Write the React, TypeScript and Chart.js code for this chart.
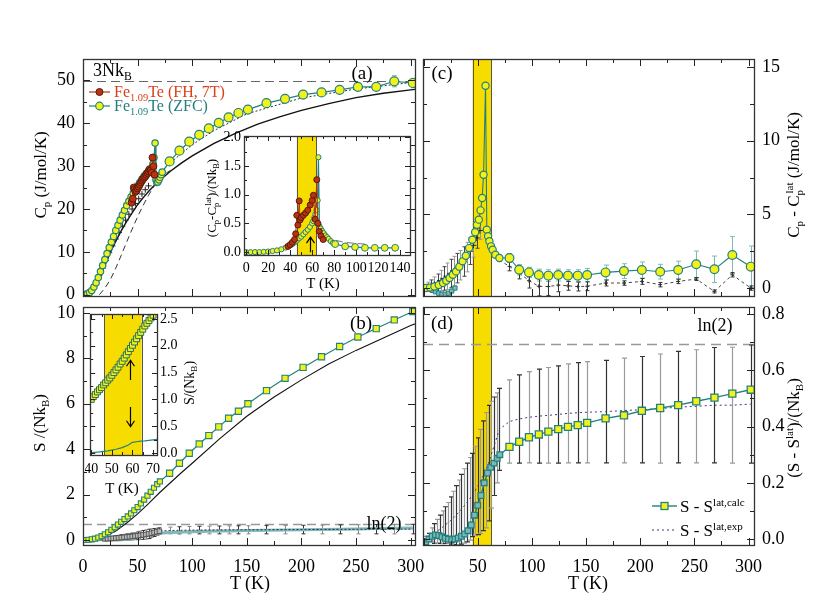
import React, { useEffect, useRef } from "react";
import { Chart, registerables } from "chart.js";
Chart.register(...registerables);

const FONT = "'Liberation Serif','Times New Roman',Times,serif";
const TEAL = "#23807e";
const TEAL_LIGHT = "#7fb8b6";
const YEL = "#f2f21a";
const BANDC = "#f7dc00";
const RED = "#b8330f";
const RED_DARK = "#5a1a0a";

// ---------- tick label arrays ----------
const A_YTICKS = [0, 10, 20, 30, 40, 50];
const B_YTICKS = [0, 2, 4, 6, 8, 10];
const C_YTICKS = [0, 5, 10, 15];
const D_YTICKS = [0, 0.2, 0.4, 0.6, 0.8];
const B_XTICKS = [0, 50, 100, 150, 200, 250, 300];
const D_XTICKS = [50, 100, 150, 200, 250, 300];
const IA_XTICKS = [0, 20, 40, 60, 80, 100, 120, 140];
const IA_YTICKS = [0, 0.5, 1, 1.5, 2];
const IB_XTICKS = [40, 50, 60, 70];
const IB_YTICKS = [0, 0.5, 1, 1.5, 2, 2.5];

const LN2 = 0.693;
const THREE_NKB = 49.9;
const BAND_MAIN = [45.2, 62.7];
const BAND_IA = [46, 63.5];
const BAND_IB = [46.3, 64.5];

// ---------- panel (a): Cp ----------
const A_ZFC_T = [2,4,6,8,10,12,14,16,18,20,22,24,26,28,30,32,34,36,38,40,42,44,46,48,50,52,54,56,58,60,62,64,65,66,66.8,67.6,68.5,69.5,70.5,71.5,72.5,
  79.3,88.3,97.3,106.4,115.2,124.3,133.3,142.3,151,168,185,201.5,218.4,235,251.7,268.5,285,302];
const A_ZFC_CP = [0.05,0.2,0.5,1.0,1.8,2.8,4.0,5.4,6.8,8.2,9.6,11.0,12.3,13.6,15.0,16.2,17.4,18.6,19.7,20.8,21.8,22.8,23.7,24.6,25.4,26.2,27.0,27.7,28.3,28.8,29.2,30.5,32.0,35.4,26.8,26.2,26.3,26.8,27.4,28.0,28.6,
  31.1,33.6,35.7,37.3,38.8,40.1,41.4,42.4,43.2,44.7,45.7,46.7,47.2,47.8,48.5,48.5,49.8,49.4];
const A_ZFC_ERR = [0.3,0.3,0.3,0.3,0.3,0.3,0.3,0.3,0.3,0.4,0.4,0.4,0.4,0.5,0.6,0.8,1.3,1.1];
const A_FH_T = [44.5,45.6,46.5,47.2,48,49,50,51,52,53,54,55,56,57,58,59,60,61,62,63,63.7,64.5,65.5];
const A_FH_CP = [21.5,22.4,25.0,24.6,24.0,24.3,24.8,25.2,25.7,26.2,26.6,27.0,27.3,27.6,28.0,28.4,28.8,29.3,29.0,28.5,32.0,30.0,28.0];
const A_LAT_T = [0,5,10,15,20,25,30,35,40,45,50,55,60,65,70,80,90,100,120,140,160,180,200,225,250,275,300,310];
const A_LAT_CP = [0,0.2,1.3,4.0,6.8,9.8,12.5,14.9,17.1,19.1,21.0,22.6,24.1,25.4,26.6,28.8,30.7,32.4,35.3,37.7,39.8,41.5,43.0,44.6,46.0,47.0,47.8,48.1];
const A_DASH_T = [15,20,25,30,35,40,45,50,55,60,65,70,75,80];
const A_DASH_CP = [0,1.5,3.5,6.2,9.2,12.3,15.3,18.2,20.8,23.2,25.3,27.0,28.2,29.0];
const A_DOT_T = [75,80,100,120,150,200,250,300,310];
const A_DOT_CP = [29.5,30.8,35.0,38.3,42.2,45.9,48.0,49.5,49.8];
const A_X_T = [15,18,21,24,27,30,33,36,39,42,45,48,51,54,57,60];
const A_X_CP = [4.5,6.2,8.0,9.8,11.4,13.0,14.5,16.0,17.4,18.8,20.0,21.3,22.4,23.5,24.5,25.4];

// ---------- inset (a): (Cp - Cp_lat)/NkB ----------
const IA_ZFC_T = [0,4,8,12,16,20,24,28,32,36,40,42,44,46,48,50,52,54,56,58,60,61,62,63,64,65,65.7,66.6,67.8,69,70.5,72,73.5,75,77,79,80.9,90,99,108,117,126,135.5];
const IA_ZFC_V = [0,0,0,0,0.005,0.01,0.02,0.03,0.05,0.08,0.12,0.14,0.17,0.2,0.24,0.27,0.31,0.35,0.39,0.44,0.5,0.54,0.6,0.66,0.73,0.9,1.65,0.45,0.41,0.37,0.33,0.29,0.26,0.23,0.19,0.16,0.14,0.1,0.09,0.075,0.075,0.075,0.075];
const IA_FH_T = [38,40,42,44,45,46,47,48.2,49,50,52,54,56,58.2,60,61.2,62.7,64.2,65.2,66.5,68,70];
const IA_FH_V = [0.1,0.13,0.17,0.22,0.32,0.64,0.47,0.89,0.56,0.6,0.64,0.68,0.73,0.82,0.9,0.99,0.57,1.26,0.5,0.36,0.28,0.22];
const IA_DASH_T = [72,80,90,100,110];
const IA_DASH_V = [0.26,0.21,0.17,0.15,0.14];
const IA_ARROW = { x: 58, y0: 0.0, y1: 0.26 };

// ---------- panel (b): S/(NkB) ----------
const B_S_T = [2,5,8,11,14,17,20,23,26,29,32,35,38,41,44,47,50,53,56,59,62,65,68,70.4,
  79.3,88.3,97.3,106.4,115.2,124.3,133.3,142.3,151,168,185,201.5,218.4,235,251.7,268.5,285,302];
const B_S = [0,0.01,0.03,0.06,0.11,0.17,0.25,0.34,0.45,0.56,0.68,0.8,0.92,1.04,1.17,1.31,1.45,1.61,1.78,1.95,2.12,2.3,2.46,2.58,
  2.94,3.38,3.82,4.23,4.6,4.98,5.36,5.67,6.0,6.58,7.12,7.6,8.07,8.52,8.94,9.31,9.69,10.06];
const B_LAT_T = [0,10,20,30,40,50,60,70,80,90,100,125,150,175,200,225,250,275,300,310];
const B_LAT = [0,0.02,0.15,0.4,0.75,1.15,1.6,2.08,2.52,2.96,3.38,4.45,5.45,6.3,7.05,7.75,8.35,8.9,9.45,9.62];

// ---------- inset (b) ----------
const IB_T = [40,41,42,43,44,45,46,47,48,49,50,51,52,53,54,55,56,57,58,59,60,61,62,63,64,65,66,67,68,69,70];
const IB_S = [1.0,1.05,1.09,1.14,1.18,1.22,1.27,1.31,1.36,1.4,1.45,1.5,1.55,1.6,1.66,1.71,1.77,1.83,1.89,1.95,2.01,2.07,2.13,2.19,2.25,2.31,2.37,2.42,2.47,2.52,2.57];
const IB_LAT_T = [39,45,50,55,60,65,70,72];
const IB_LAT = [0.98,1.28,1.51,1.77,2.07,2.37,2.63,2.72];
const IB_FH_T = [42,47,52,57,62,67,70];
const IB_FH = [1.12,1.36,1.6,1.88,2.18,2.47,2.62];
const IB_M_T = [39,44,48,52,55,58,60,62,64,66,68,70,72];
const IB_M = [0,0.02,0.04,0.07,0.1,0.15,0.2,0.21,0.22,0.225,0.235,0.245,0.255];
const IB_ARROWS = [{ x: 58.8, y0: 1.36, y1: 1.73 }, { x: 58.8, y0: 0.86, y1: 0.49 }];

// ---------- panel (c): Cp - Cp_lat ----------
const C_T = [2,6,10,14,18,21,24,27,30,33,36,39,42,45,47.6,49.3,51,52.6,54.1,55.4,57.2,58.4,59.6,60.8,62.3,63.8,66.3,70,
  79.3,88.3,97.3,106.4,115.2,124.3,133.3,142.3,151,168,185,201.5,218.4,235,251.7,268.5,285,302];
const C_V = [0,0.03,0.1,0.2,0.34,0.5,0.68,0.9,1.13,1.45,1.81,2.19,2.71,3.28,3.78,4.3,4.64,5.27,6.11,7.69,13.73,3.96,3.51,3.17,2.83,2.6,2.26,2.04,
  2.04,1.24,1.06,0.88,0.84,0.88,0.84,0.84,0.88,1.06,1.15,1.22,1.11,1.22,1.61,1.27,2.24,1.45];
const C_ERR = [0.3,0.35,0.35,0.4,0.4,0.4,0.4,0.4,0.45,0.5,0.5,0.55,0.5,0.6,0.9,0.9,1.25,1.4];
const C_X_T = [4,7,10,13,16,19,22,25,28,31,34,37,40,43,46,49,52];
const C_X_V = [0.1,0.15,0.25,0.35,0.5,0.65,0.8,1.0,1.15,1.35,1.55,1.8,2.1,2.5,2.9,3.4,3.9];
const C_X_ERR = [0.3,0.4,0.5,0.6,0.7,0.8,0.9,0.95,1.0,1.0,1.0,1.0,1.0,0.9,0.8,0.7,0.6];
const C_E_T = [70,79.3,88.3,97.3,106.4,115.2,124.3,133.3,142.3,151,168,185,201.5,218.4,235,251.7,268.5,285,302];
const C_E_V = [1.9,1.47,1.02,0.5,0.12,0.1,0.2,0.15,0.1,0.12,0.34,0.34,0.45,0.23,0.45,0.61,-0.23,0.9,0.0];
const C_E_ERR = [0.3,0.4,0.5,0.65,0.6,0.45,0.3,0.3,0.3,0.2,0.15,0.2,0.15,0.15,0.1,0.1,0.15,0.15];
const C_TL_T = [2,5,8,11,14,17,20,23,26,29];
const C_TL_V = [0.05,-0.05,-0.15,-0.25,-0.35,-0.42,-0.42,-0.35,-0.2,0.0];

// ---------- panel (d): (S - S_lat)/NkB ----------
const D_T = [2,5,8,11,14,17,20,23,26,29,32,35,38,41,44,47,50,53,56,59,62,65,68,70.4,
  79.3,88.3,97.3,106.4,115.2,124.3,133.3,142.3,151,168,185,201.5,218.4,235,251.7,268.5,285,302];
const D_CALC = [-0.01,0.0,0.01,0.015,0.013,0.008,0.003,0.0,-0.002,0.0,0.004,0.01,0.018,0.03,0.05,0.085,0.12,0.155,0.2,0.235,0.255,0.27,0.287,0.3,
  0.328,0.346,0.362,0.372,0.382,0.391,0.399,0.405,0.413,0.429,0.44,0.456,0.466,0.476,0.49,0.503,0.517,0.531];
const D_EXP_T = [2,5,7.5,10,12.5,15,17.5,20,22.5,25,27.5,30,32.5,35,37.5,40,42.5,45,47.5,50,52.5,55,57.5,60,62.5,65,67.5,70,
  79.3,88.3,97.3,106.4,115.2,124.3,133.3,142.3,151,168,185,201.5,218.4,235,251.7,268.5,285,302];
const D_EXP = [0,0.01,0.015,0.02,0.028,0.035,0.042,0.05,0.058,0.066,0.075,0.085,0.095,0.106,0.118,0.13,0.143,0.157,0.172,0.188,0.205,0.225,0.245,0.27,0.3,0.33,0.36,0.39,
  0.418,0.427,0.433,0.437,0.44,0.443,0.447,0.449,0.451,0.453,0.457,0.46,0.464,0.469,0.472,0.476,0.476,0.48];
const D_EXP_ERR = [0.01,0.01,0.025,0.035,0.042,0.05,0.058,0.065,0.072,0.084,0.095,0.105,0.115,0.124,0.132,0.14,0.147,0.148,0.158,0.172,0.185,0.195,0.205,0.205,0.19,0.175,0.16,0.146,
  0.148,0.157,0.162,0.167,0.17,0.173,0.176,0.178,0.18,0.182,0.186,0.189,0.194,0.198,0.201,0.205,0.206,0.21];

// ---------- helpers ----------
const pts = (T: number[], V: number[]) => T.map((t, i) => ({ x: t, y: V[i] }));

const decor: any = {
  id: "decor",
  beforeDraw(chart: any, _a: any, o: any) {
    if (!o || !o.white) return;
    const c = chart.chartArea, ctx = chart.ctx;
    ctx.save();
    ctx.fillStyle = "#fff";
    ctx.fillRect(c.left, c.top, c.right - c.left, c.bottom - c.top);
    ctx.restore();
  },
  beforeDatasetsDraw(chart: any, _a: any, o: any) {
    const ctx = chart.ctx, c = chart.chartArea, xs = chart.scales.x, ys = chart.scales.y;
    ctx.save();
    ctx.beginPath();
    ctx.rect(c.left, c.top, c.right - c.left, c.bottom - c.top);
    ctx.clip();
    if (o.band) {
      const x0 = xs.getPixelForValue(o.band[0]), x1 = xs.getPixelForValue(o.band[1]);
      ctx.fillStyle = BANDC;
      ctx.fillRect(x0, c.top, x1 - x0, c.bottom - c.top);
      ctx.strokeStyle = "#555";
      ctx.lineWidth = 1;
      [x0, x1].forEach((px) => {
        ctx.beginPath();
        ctx.moveTo(Math.round(px) + 0.5, c.top);
        ctx.lineTo(Math.round(px) + 0.5, c.bottom);
        ctx.stroke();
      });
    }
    if (o.hlines) {
      for (const h of o.hlines) {
        const py = Math.round(ys.getPixelForValue(h.y)) + 0.5;
        ctx.strokeStyle = h.color;
        ctx.lineWidth = h.width || 1;
        ctx.setLineDash(h.dash || []);
        ctx.beginPath();
        ctx.moveTo(c.left, py);
        ctx.lineTo(c.right, py);
        ctx.stroke();
      }
      ctx.setLineDash([]);
    }
    chart.data.datasets.forEach((ds: any) => {
      if (!ds.errs) return;
      const off = ds.data.length - ds.errs.length;
      ds.data.forEach((p: any, j: number) => {
        const e = ds.errs[j - off];
        if (!(e > 0)) return;
        const px = Math.round(xs.getPixelForValue(p.x)) + 0.5;
        const y0 = ys.getPixelForValue(p.y - e), y1 = ys.getPixelForValue(p.y + e);
        const col = Array.isArray(ds.errColor) ? ds.errColor[j % ds.errColor.length] : ds.errColor;
        ctx.strokeStyle = col || "#333";
        ctx.lineWidth = ds.errWidth || 1;
        const cw = ds.capW == null ? 2.5 : ds.capW;
        ctx.beginPath();
        ctx.moveTo(px, y0); ctx.lineTo(px, y1);
        if (cw > 0) {
          ctx.moveTo(px - cw, y0); ctx.lineTo(px + cw, y0);
          ctx.moveTo(px - cw, y1); ctx.lineTo(px + cw, y1);
        }
        ctx.stroke();
      });
    });
    ctx.restore();
  },
  afterDraw(chart: any, _a: any, o: any) {
    const ctx = chart.ctx, c = chart.chartArea, xs = chart.scales.x, ys = chart.scales.y;
    ctx.save();
    if (o.arrows) {
      ctx.strokeStyle = "#000";
      ctx.lineWidth = 1.2;
      for (const a of o.arrows) {
        const px = Math.round(xs.getPixelForValue(a.x)) + 0.5;
        const p0 = ys.getPixelForValue(a.y0), p1 = ys.getPixelForValue(a.y1);
        const dir = p1 < p0 ? 1 : -1;
        ctx.beginPath();
        ctx.moveTo(px, p0); ctx.lineTo(px, p1);
        ctx.moveTo(px - 4, p1 + dir * 6); ctx.lineTo(px, p1); ctx.lineTo(px + 4, p1 + dir * 6);
        ctx.stroke();
      }
    }
    const L1 = o.tickMajor || 7, L2 = o.tickMinor || 4;
    ctx.strokeStyle = "#222";
    ctx.lineWidth = 1;
    ctx.beginPath();
    const axisTicks = (s: any, isX: boolean, minor: number, major: number) => {
      const ratio = Math.round(major / minor);
      const n0 = Math.ceil(s.min / minor - 1e-6), n1 = Math.floor(s.max / minor + 1e-6);
      for (let k = n0; k <= n1; k++) {
        const L = k % ratio === 0 ? L1 : L2;
        const p = Math.round(s.getPixelForValue(k * minor)) + 0.5;
        if (isX) {
          ctx.moveTo(p, c.bottom); ctx.lineTo(p, c.bottom - L);
          ctx.moveTo(p, c.top); ctx.lineTo(p, c.top + L);
        } else {
          ctx.moveTo(c.left, p); ctx.lineTo(c.left + L, p);
          ctx.moveTo(c.right, p); ctx.lineTo(c.right - L, p);
        }
      }
    };
    if (o.xt) axisTicks(xs, true, o.xt[0], o.xt[1]);
    if (o.yt) axisTicks(ys, false, o.yt[0], o.yt[1]);
    ctx.stroke();
    ctx.strokeStyle = "#333";
    ctx.lineWidth = 1.3;
    ctx.strokeRect(Math.round(c.left) + 0.5, Math.round(c.top) + 0.5, Math.round(c.right - c.left), Math.round(c.bottom - c.top));
    ctx.restore();
  },
};

function axis(a: any) {
  const horiz = a.pos === "bottom" || a.pos === "top";
  const cfg: any = {
    type: "linear",
    position: a.pos,
    min: a.min,
    max: a.max,
    display: a.show,
    grid: { display: false, drawTicks: false },
    border: { display: false },
    ticks: {
      font: { family: FONT, size: a.size || 18 },
      color: "#000",
      padding: a.pad == null ? 8 : a.pad,
      autoSkip: false,
      maxRotation: 0,
      minRotation: 0,
      callback: (v: number) => (a.dec ? v.toFixed(a.dec) : String(v)),
    },
    afterBuildTicks: (s: any) => {
      s.ticks = (a.ticks || []).map((v: number) => ({ value: v }));
    },
  };
  if (a.show) {
    cfg.afterFit = (s: any) => {
      if (horiz) s.height = a.fixed; else s.width = a.fixed;
      s.paddingTop = 0; s.paddingBottom = 0; s.paddingLeft = 0; s.paddingRight = 0;
    };
  }
  return cfg;
}

function opts(padding: any, x: any, y: any, dec: any) {
  return {
    responsive: false,
    maintainAspectRatio: false,
    animation: false,
    devicePixelRatio: 1,
    events: [],
    layout: { padding },
    plugins: { legend: { display: false }, tooltip: { enabled: false }, decor: dec },
    scales: { x, y },
  };
}

const line = (T: number[], V: number[], color: string, width: number, dash: number[] = []) => ({
  data: pts(T, V), showLine: true, borderColor: color, borderWidth: width, borderDash: dash,
  pointRadius: 0, backgroundColor: color, tension: 0,
});

// ---------- configs ----------
function cfgA(): any {
  return {
    type: "scatter",
    data: {
      datasets: [
        { data: pts(A_FH_T, A_FH_CP), showLine: true, borderColor: RED, borderWidth: 1, pointRadius: 3.5,
          pointBackgroundColor: RED, pointBorderColor: RED_DARK, pointBorderWidth: 1 },
        { data: pts(A_ZFC_T, A_ZFC_CP), showLine: true, borderColor: TEAL, borderWidth: 1.2,
          pointRadius: A_ZFC_T.map((t) => (t < 75 ? 3.2 : 4.5)), pointBackgroundColor: YEL,
          pointBorderColor: TEAL, pointBorderWidth: 1.2, errs: A_ZFC_ERR, errColor: TEAL_LIGHT },
        { data: pts(A_X_T, A_X_CP), showLine: false, pointStyle: "cross", pointRadius: 3,
          pointBorderColor: "#222", pointBorderWidth: 1 },
        line(A_DOT_T, A_DOT_CP, "#333", 1, [2, 2]),
        line(A_DASH_T, A_DASH_CP, "#333", 1, [6, 4]),
        line(A_LAT_T, A_LAT_CP, "#111", 1.4),
      ],
    },
    options: opts(
      { top: 19, right: 25, bottom: 9, left: 0 },
      axis({ pos: "bottom", min: 0, max: 304, show: false }),
      axis({ pos: "left", min: -0.3, max: 55, show: true, ticks: A_YTICKS, fixed: 83, pad: 8 }),
      { xt: [25, 50], yt: [5, 10], hlines: [{ y: THREE_NKB, color: "#666", dash: [9, 5], width: 1 }] }
    ),
    plugins: [decor],
  };
}

function cfgIA(): any {
  return {
    type: "scatter",
    data: {
      datasets: [
        { data: pts(IA_FH_T, IA_FH_V), showLine: true, borderColor: RED, borderWidth: 1, pointRadius: 3,
          pointBackgroundColor: RED, pointBorderColor: RED_DARK, pointBorderWidth: 1 },
        { data: pts(IA_ZFC_T, IA_ZFC_V), showLine: true, borderColor: TEAL, borderWidth: 1.2,
          pointRadius: IA_ZFC_T.map((t) => (t < 80 ? 2.6 : 3.4)), pointBackgroundColor: YEL,
          pointBorderColor: TEAL, pointBorderWidth: 1 },
        line(IA_DASH_T, IA_DASH_V, "#777", 1, [7, 4]),
      ],
    },
    options: opts(
      { top: 10, right: 5, bottom: 0, left: 0 },
      axis({ pos: "bottom", min: -2, max: 149, show: true, ticks: IA_XTICKS, fixed: 32, pad: 5, size: 14 }),
      axis({ pos: "left", min: -0.05, max: 2.02, show: true, ticks: IA_YTICKS, fixed: 44, pad: 3, size: 14, dec: 1 }),
      { white: true, band: BAND_IA, xt: [10, 20], yt: [0.25, 0.5], tickMajor: 5, tickMinor: 3, arrows: [IA_ARROW] }
    ),
    plugins: [decor],
  };
}

function cfgB(): any {
  return {
    type: "scatter",
    data: {
      datasets: [
        { data: pts(B_S_T, B_S), showLine: true, borderColor: TEAL, borderWidth: 1.2, pointStyle: "rect",
          pointRadius: B_S_T.map((t) => (t < 75 ? 3.6 : 4.4)), pointBackgroundColor: YEL,
          pointBorderColor: TEAL, pointBorderWidth: 1.1 },
        line(B_LAT_T, B_LAT, "#111", 1.1),
        { data: pts(D_EXP_T, D_EXP), showLine: true, borderColor: "#2a2a55", borderWidth: 1, borderDash: [2, 2],
          pointStyle: "rect", pointRadius: D_EXP_T.map((t) => (t <= 70 && t >= 20 ? 3.2 : 0)),
          pointBackgroundColor: "#bbb", pointBorderColor: "#444", pointBorderWidth: 0.8,
          errs: D_EXP_ERR, errColor: ["#888", "#333"], capW: 2 },
        line(D_T, D_CALC, TEAL_LIGHT, 3),
      ],
    },
    options: opts(
      { top: 17, right: 25, bottom: 0, left: 0 },
      axis({ pos: "bottom", min: 0, max: 304, show: true, ticks: B_XTICKS, fixed: 48, pad: 11 }),
      axis({ pos: "left", min: -0.22, max: 10.26, show: true, ticks: B_YTICKS, fixed: 83, pad: 8 }),
      { xt: [25, 50], yt: [1, 2], hlines: [{ y: LN2, color: "#999", dash: [9, 5], width: 1.3 }] }
    ),
    plugins: [decor],
  };
}

function cfgIB(): any {
  return {
    type: "scatter",
    data: {
      datasets: [
        { data: pts(IB_T, IB_S), showLine: false, pointStyle: "rect", pointRadius: 4.2,
          pointBackgroundColor: YEL, pointBorderColor: "#2a6e5a", pointBorderWidth: 1 },
        line(IB_FH_T, IB_FH, RED, 1.2),
        line(IB_LAT_T, IB_LAT, "#111", 1.2),
        line(IB_M_T, IB_M, TEAL, 1.2),
      ],
    },
    options: opts(
      { top: 9, right: 0, bottom: 0, left: 5 },
      axis({ pos: "bottom", min: 39.5, max: 71.9, show: true, ticks: IB_XTICKS, fixed: 40, pad: 6, size: 14 }),
      axis({ pos: "right", min: -0.037, max: 2.593, show: true, ticks: IB_YTICKS, fixed: 58, pad: 3, size: 14, dec: 1 }),
      { white: true, band: BAND_IB, xt: [5, 10], yt: [0.25, 0.5], tickMajor: 5, tickMinor: 3, arrows: IB_ARROWS }
    ),
    plugins: [decor],
  };
}

function cfgC(): any {
  return {
    type: "scatter",
    data: {
      datasets: [
        { data: pts(C_T, C_V), showLine: true, borderColor: TEAL, borderWidth: 1.1,
          pointRadius: C_T.map((t) => (t < 75 ? 3.6 : 4.4)), pointBackgroundColor: YEL,
          pointBorderColor: TEAL, pointBorderWidth: 1.2, errs: C_ERR, errColor: TEAL_LIGHT, capW: 2.5 },
        { data: pts(C_X_T, C_X_V), showLine: false, pointStyle: "cross", pointRadius: 3,
          pointBorderColor: "#222", pointBorderWidth: 1, errs: C_X_ERR, errColor: ["#999", "#444"], capW: 2 },
        { data: pts(C_E_T, C_E_V), showLine: true, borderColor: "#444", borderWidth: 1, borderDash: [3, 3],
          pointStyle: "cross", pointRadius: 2, pointBorderColor: "#333",
          errs: C_E_ERR, errColor: "#333", capW: 2 },
        { data: pts(C_TL_T, C_TL_V), showLine: true, borderColor: TEAL, borderWidth: 2.5, pointStyle: "rect",
          pointRadius: 3, pointBackgroundColor: TEAL_LIGHT, pointBorderColor: TEAL, pointBorderWidth: 1 },
      ],
    },
    options: opts(
      { top: 19, right: 0, bottom: 9, left: 23 },
      axis({ pos: "bottom", min: -0.5, max: 305, show: false }),
      axis({ pos: "right", min: -0.54, max: 15.54, show: true, ticks: C_YTICKS, fixed: 76, pad: 8 }),
      { band: BAND_MAIN, xt: [25, 50], yt: [2.5, 5] }
    ),
    plugins: [decor],
  };
}

function cfgD(): any {
  return {
    type: "scatter",
    data: {
      datasets: [
        { data: pts(D_T, D_CALC), showLine: true, borderColor: TEAL, borderWidth: 1.4, pointStyle: "rect",
          pointRadius: D_T.map((t) => (t < 75 ? 4 : 5)),
          pointBackgroundColor: D_T.map((t) => (t < 75 ? TEAL_LIGHT : YEL)),
          pointBorderColor: TEAL, pointBorderWidth: 1.3 },
        { data: pts(D_EXP_T, D_EXP), showLine: true, borderColor: "#3a3a7a", borderWidth: 1, borderDash: [2, 3],
          pointRadius: 0, errs: D_EXP_ERR, errColor: ["#9a9a9a", "#333"], capW: 2.5, errWidth: 1.2 },
      ],
    },
    options: opts(
      { top: 17, right: 0, bottom: 0, left: 23 },
      axis({ pos: "bottom", min: -0.5, max: 305, show: true, ticks: D_XTICKS, fixed: 48, pad: 11 }),
      axis({ pos: "right", min: -0.021, max: 0.825, show: true, ticks: D_YTICKS, fixed: 76, pad: 8, dec: 1 }),
      { band: BAND_MAIN, xt: [25, 50], yt: [0.1, 0.2], hlines: [{ y: LN2, color: "#999", dash: [10, 6], width: 1.5 }] }
    ),
    plugins: [decor],
  };
}

// ---------- text helpers ----------
const Sub = ({ children }: any) => (
  <span style={{ fontSize: "0.65em", position: "relative", top: "0.35em" }}>{children}</span>
);
const Sup = ({ children, back }: any) => (
  <span style={{ fontSize: "0.65em", position: "relative", top: "-0.55em", marginLeft: back ? "-0.33em" : 0 }}>{children}</span>
);
const Txt = ({ x, y, size = 18, rot = false, left = false, color = "#000", children }: any) => (
  <div
    style={{
      position: "absolute", left: x, top: y,
      transform: `translate(${left ? "0" : "-50%"},-50%)${rot ? " rotate(-90deg)" : ""}`,
      fontFamily: FONT, fontSize: size, color, whiteSpace: "nowrap", lineHeight: 1, zIndex: 5,
    }}
  >
    {children}
  </div>
);

export default function App() {
  const ra = useRef<any>(null), rb = useRef<any>(null), rc = useRef<any>(null), rd = useRef<any>(null);
  const ria = useRef<any>(null), rib = useRef<any>(null);
  useEffect(() => {
    const charts = [
      new Chart(ra.current, cfgA()),
      new Chart(rb.current, cfgB()),
      new Chart(rc.current, cfgC()),
      new Chart(rd.current, cfgD()),
      new Chart(ria.current, cfgIA()),
      new Chart(rib.current, cfgIB()),
    ];
    return () => charts.forEach((c) => c.destroy());
  }, []);
  const cv = (l: number, t: number): any => ({ position: "absolute", left: l, top: t });
  return (
    <div style={{ position: "absolute", left: 0, top: 0, width: 830, height: 593, background: "#fff", overflow: "hidden" }}>
      <canvas ref={ra} width={440} height={265} style={cv(0, 40)} />
      <canvas ref={rb} width={440} height={303} style={cv(0, 290)} />
      <canvas ref={rc} width={430} height={265} style={cv(400, 40)} />
      <canvas ref={rd} width={430} height={303} style={cv(400, 290)} />
      <canvas ref={ria} width={215} height={161} style={cv(200, 126)} />
      <canvas ref={rib} width={130} height={190} style={cv(85, 305)} />

      <Txt x={40} y={175} size={17} rot>C<Sub>p</Sub> (J/mol/K)</Txt>
      <Txt x={39} y={423} size={17} rot>S /(Nk<Sub>B</Sub>)</Txt>
      <Txt x={793} y={175} size={17} rot>C<Sub>p</Sub> - C<Sub>p</Sub><Sup back>lat</Sup> (J/mol/K)</Txt>
      <Txt x={793} y={428} size={17} rot>(S - S<Sup>lat</Sup>)/(Nk<Sub>B</Sub>)</Txt>
      <Txt x={250} y={583}>T (K)</Txt>
      <Txt x={588} y={583}>T (K)</Txt>

      <Txt x={211} y={198} size={13} rot>(C<Sub>p</Sub>-C<Sub>p</Sub><Sup back>lat</Sup>)/(Nk<Sub>B</Sub>)</Txt>
      <Txt x={323} y={283} size={15}>T (K)</Txt>
      <Txt x={122} y={488} size={15}>T (K)</Txt>
      <Txt x={190} y={383} size={14} rot>S/(Nk<Sub>B</Sub>)</Txt>

      <Txt x={93} y={70} left>3Nk<Sub>B</Sub></Txt>
      <Txt x={362} y={72} size={19}>(a)</Txt>
      <Txt x={361} y={322} size={19}>(b)</Txt>
      <Txt x={442} y={72} size={19}>(c)</Txt>
      <Txt x={442} y={322} size={19}>(d)</Txt>
      <Txt x={384} y={523}>ln(2)</Txt>
      <Txt x={715} y={325}>ln(2)</Txt>

      <svg width={30} height={30} style={{ position: "absolute", left: 85, top: 84, zIndex: 5 }}>
        <line x1={4} y1={8} x2={25} y2={8} stroke={RED} strokeWidth={1.2} />
        <circle cx={14.5} cy={8} r={3.5} fill={RED} stroke={RED_DARK} strokeWidth={1} />
        <line x1={4} y1={22} x2={25} y2={22} stroke={TEAL} strokeWidth={1.2} />
        <circle cx={14.5} cy={22} r={3.8} fill={YEL} stroke={TEAL} strokeWidth={1.2} />
      </svg>
      <Txt x={114} y={92} size={16} left color="#d9401c">Fe<Sub>1.09</Sub>Te (FH, 7T)</Txt>
      <Txt x={114} y={106} size={16} left color={TEAL}>Fe<Sub>1.09</Sub>Te (ZFC)</Txt>

      <svg width={34} height={40} style={{ position: "absolute", left: 648, top: 496, zIndex: 5 }}>
        <line x1={4} y1={10} x2={29} y2={10} stroke={TEAL} strokeWidth={1.4} />
        <rect x={13} y={6.5} width={7} height={7} fill={YEL} stroke={TEAL} strokeWidth={1.3} />
        <line x1={4} y1={34} x2={29} y2={34} stroke="#3a3a7a" strokeWidth={1} strokeDasharray="2 3" />
      </svg>
      <Txt x={680} y={506} size={17} left>S - S<Sup>lat,calc</Sup></Txt>
      <Txt x={680} y={530} size={17} left>S - S<Sup>lat,exp</Sup></Txt>
    </div>
  );
}
